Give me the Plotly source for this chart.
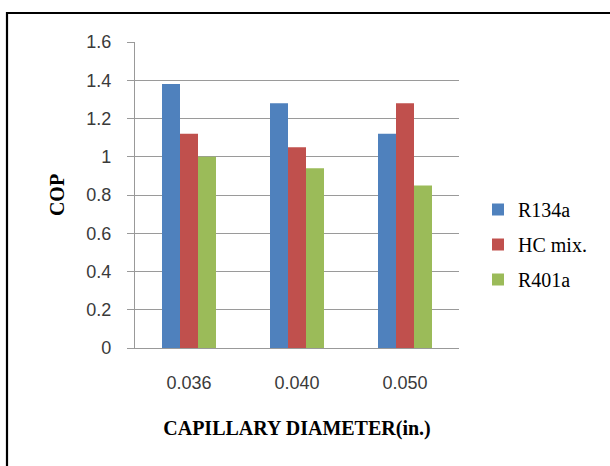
import plotly.graph_objects as go

# COP of three refrigerants for each capillary tube diameter
diameters = ["0.036", "0.040", "0.050"]
r134a = [1.38, 1.28, 1.12]
hc_mix = [1.12, 1.05, 1.28]
r401a = [1.00, 0.94, 0.85]

series = [
    ("R134a", r134a, "#4F81BD"),
    ("HC mix.", hc_mix, "#C0504D"),
    ("R401a", r401a, "#9BBB59"),
]

y_ticks = [0, 0.2, 0.4, 0.6, 0.8, 1, 1.2, 1.4, 1.6]
y_tick_text = ["0", "0.2", "0.4", "0.6", "0.8", "1", "1.2", "1.4", "1.6"]

fig = go.Figure()
for name, vals, color in series:
    fig.add_trace(go.Bar(
        x=diameters, y=vals, name=name, legendgroup=name,
        marker=dict(color=color, line=dict(width=0)),
    ))

W, H = 610, 466
L, R, T, B = 135, 151, 42, 118
pw, ph = W - L - R, H - T - B

def px_to_paper_x(px):
    return (px - L) / pw

def px_to_paper_y(py):
    return (H - B - py) / ph

tick_font = dict(family="Liberation Sans", size=18, color="#3a3a3a")
title_font = dict(family="Liberation Serif", size=20, color="#000000")

fig.update_layout(
    width=W, height=H,
    margin=dict(l=L, r=R, t=T, b=B, pad=0),
    paper_bgcolor="white", plot_bgcolor="white",
    barmode="group", bargap=0.5, bargroupgap=0,
    showlegend=True,
    legend=dict(
        x=px_to_paper_x(478), y=px_to_paper_y(190), xanchor="left", yanchor="top",
        font=dict(family="Liberation Serif", size=20, color="#000000"),
        tracegroupgap=6, itemwidth=30,
        bgcolor="rgba(0,0,0,0)",
    ),
    xaxis=dict(
        showgrid=False, showline=True, linecolor="#999999", linewidth=1.3,
        ticks="", tickfont=tick_font, ticklabelstandoff=18,
        title=dict(text="<b>CAPILLARY DIAMETER(in.)</b>", font=title_font, standoff=29),
    ),
    yaxis=dict(
        range=[0, 1.6], tickvals=y_ticks, ticktext=y_tick_text,
        showgrid=True, gridcolor="#9a9a9a", gridwidth=1.3,
        showline=True, linecolor="#999999", linewidth=1.3,
        ticks="outside", ticklen=7, tickcolor="#9a9a9a", tickwidth=1.3,
        tickfont=tick_font, ticklabelstandoff=12,
        zeroline=False,
        title=dict(text="<b>COP</b>", font=title_font, standoff=16),
    ),
    shapes=[dict(
        type="rect", xref="paper", yref="paper",
        x0=px_to_paper_x(7), x1=px_to_paper_x(640),
        y0=px_to_paper_y(500), y1=px_to_paper_y(13),
        line=dict(color="#000000", width=2.2), fillcolor="rgba(0,0,0,0)",
        layer="below",
    )],
)

fig.write_html("out.html")
